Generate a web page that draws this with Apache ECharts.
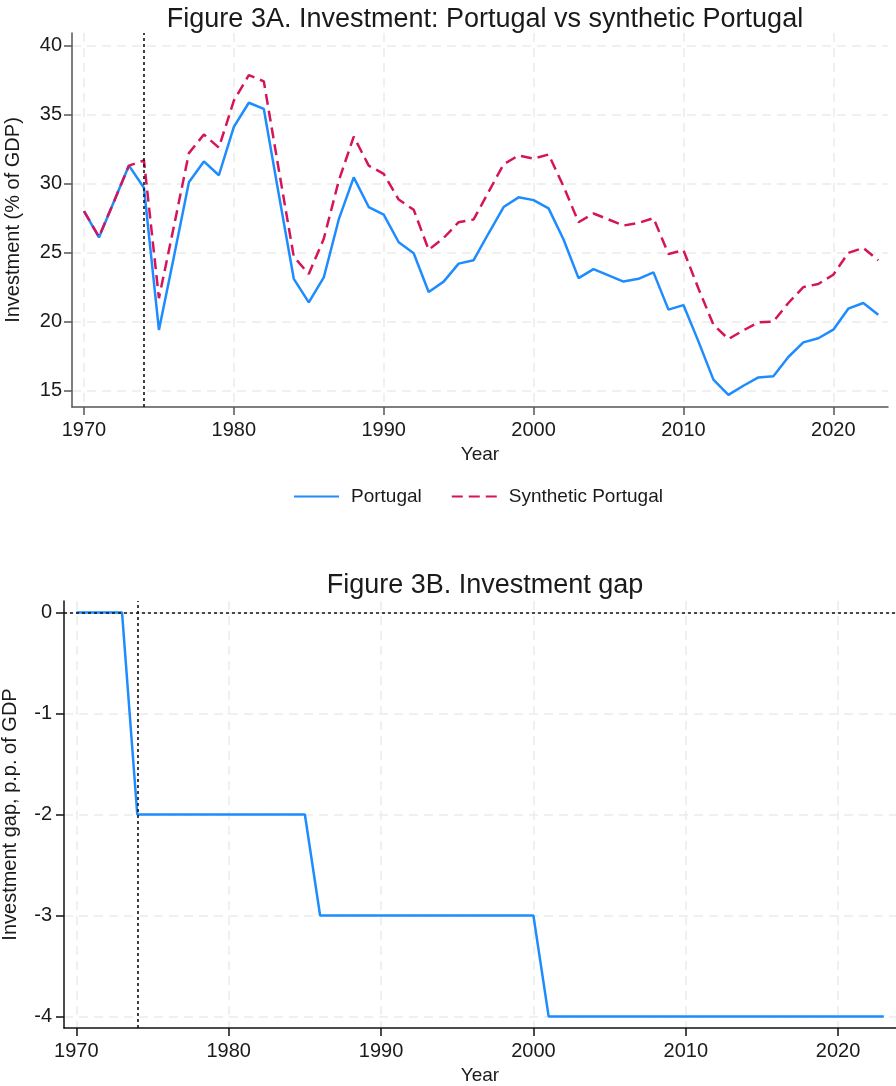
<!DOCTYPE html>
<html>
<head>
<meta charset="utf-8">
<script src="https://cdn.jsdelivr.net/npm/echarts@6/dist/echarts.min.js"></script>
<style>
html,body{margin:0;padding:0;background:#fff;}
#chart{width:896px;height:1086px;}
</style>
</head>
<body>
<div id="chart"></div>
<script>
// ---- Data ----
const years = [1970,1971,1972,1973,1974,1975,1976,1977,1978,1979,
  1980,1981,1982,1983,1984,1985,1986,1987,1988,1989,
  1990,1991,1992,1993,1994,1995,1996,1997,1998,1999,
  2000,2001,2002,2003,2004,2005,2006,2007,2008,2009,
  2010,2011,2012,2013,2014,2015,2016,2017,2018,2019,
  2020,2021,2022,2023];
const portugal = [28.0,26.1,28.7,31.3,29.7,19.4,24.7,30.1,31.6,30.6,
  34.1,35.85,35.4,29.2,23.1,21.4,23.2,27.4,30.45,28.3,
  27.75,25.75,24.95,22.15,22.9,24.2,24.45,26.4,28.3,29.0,
  28.8,28.2,25.95,23.15,23.8,23.35,22.9,23.1,23.57,20.87,
  21.2,18.57,15.8,14.7,15.36,15.96,16.04,17.44,18.5,18.8,
  19.42,20.94,21.35,20.5];
const synthetic = [28.0,26.15,28.7,31.3,31.67,21.7,26.9,32.2,33.55,32.6,
  36.0,37.85,37.4,31.0,24.7,23.45,26.0,30.2,33.4,31.3,
  30.7,28.84,28.1,25.2,26.06,27.2,27.4,29.4,31.4,32.03,
  31.8,32.1,29.8,27.2,27.83,27.4,26.96,27.15,27.5,24.9,
  25.17,22.4,19.78,18.74,19.37,19.95,20.0,21.35,22.5,22.73,
  23.4,24.98,25.34,24.44];
const gap = [0,0,0,0,-2,-2,-2,-2,-2,-2,
  -2,-2,-2,-2,-2,-2,-3,-3,-3,-3,
  -3,-3,-3,-3,-3,-3,-3,-3,-3,-3,
  -3,-4,-4,-4,-4,-4,-4,-4,-4,-4,
  -4,-4,-4,-4,-4,-4,-4,-4,-4,-4,
  -4,-4,-4,-4];
const xTicks = [1970,1980,1990,2000,2010,2020];
const yTicksA = [15,20,25,30,35,40];
const yTicksB = [-4,-3,-2,-1,0];
const treatmentYear = 1974;
const seriesNames = ['Portugal','Synthetic Portugal'];
const titleA = 'Figure 3A. Investment: Portugal vs synthetic Portugal';
const titleB = 'Figure 3B. Investment gap';

// ---- Styles ----
const FONT = '"Liberation Sans", Arial, Helvetica, sans-serif';
const TXT = '#1a1a1a';
const BLUE = '#1E8CFF';
const RED = '#D6145C';
const gridLine = {show:true, lineStyle:{color:'#ebebeb', type:[9,6], width:1.5}};
const fmt = v => String(v);

function xAxisDef(idx, min, max, axisColor){
  return {
    gridIndex: idx, type:'value', min:min, max:max,
    name:'Year', nameLocation:'middle', nameGap:38,
    nameTextStyle:{fontSize:19, color:TXT, fontFamily:FONT},
    axisLine:{show:true, onZero:false, lineStyle:{color:axisColor, width:1.5}},
    axisTick:{show:true, length:8, customValues:xTicks, lineStyle:{color:axisColor, width:1.5}},
    axisLabel:{customValues:xTicks, formatter:fmt, fontSize:20, color:TXT, margin:13, fontFamily:FONT},
    splitLine:gridLine
  };
}
function yAxisDef(idx, min, max, ticks, name, gapN, axisColor, margin){
  return {
    gridIndex: idx, type:'value', min:min, max:max,
    name:name, nameLocation:'middle', nameGap:gapN,
    nameTextStyle:{fontSize:20, color:TXT, fontFamily:FONT},
    axisLine:{show:true, onZero:false, lineStyle:{color:axisColor, width:1.5}},
    axisTick:{show:true, length:8, customValues:ticks, lineStyle:{color:axisColor, width:1.5}},
    axisLabel:{customValues:ticks, formatter:fmt, fontSize:20, color:TXT, margin:margin, fontFamily:FONT},
    splitLine:gridLine
  };
}
const dotted = {type:[3,3], color:'#111', width:1.6};

const option = {
  animation:false,
  backgroundColor:'#fff',
  textStyle:{fontFamily:FONT},
  title:[
    {text:titleA, left:480, top:1, textAlign:'center',
     textStyle:{fontSize:27, fontWeight:'normal', color:TXT, fontFamily:FONT}},
    {text:titleB, left:480, top:567, textAlign:'center',
     textStyle:{fontSize:27, fontWeight:'normal', color:TXT, fontFamily:FONT}}
  ],
  legend:{
    data:seriesNames, left:293, top:487, padding:0, itemWidth:45, itemHeight:18, itemGap:29,
    itemStyle:{opacity:0},
    textStyle:{fontSize:19, color:TXT, fontFamily:FONT, padding:[0,0,0,7]}
  },
  grid:[
    {left:72, right:8, top:33, height:374, outerBoundsMode:'none', containLabel:false},
    {left:64, right:0, top:601, height:427, outerBoundsMode:'none', containLabel:false}
  ],
  xAxis:[
    xAxisDef(0, 1969.2, 2023.65, '#555'),
    xAxisDef(1, 1969.19, 2023.8, '#111')
  ],
  yAxis:[
    yAxisDef(0, 13.82, 40.9, yTicksA, 'Investment (% of GDP)', 49, '#555', 10),
    yAxisDef(1, -4.115, 0.115, yTicksB, 'Investment gap, p.p. of GDP', 44, '#111', 12)
  ],
  series:[
    {name:seriesNames[0], type:'line', xAxisIndex:0, yAxisIndex:0,
     data:years.map((y,i)=>[y,portugal[i]]), showSymbol:false, symbol:'none',
     lineStyle:{color:BLUE, width:2.5}, itemStyle:{color:BLUE}},
    {name:seriesNames[1], type:'line', xAxisIndex:0, yAxisIndex:0,
     data:years.map((y,i)=>[y,synthetic[i]]), showSymbol:false, symbol:'none',
     lineStyle:{color:RED, width:2.5, type:[11,6]}, itemStyle:{color:RED},
     markLine:{silent:true, symbol:['none','none'], label:{show:false}, lineStyle:dotted,
       emphasis:{disabled:true}, data:[{xAxis:treatmentYear}]}},
    {name:'Gap', type:'line', xAxisIndex:1, yAxisIndex:1,
     data:years.map((y,i)=>[y,gap[i]]), showSymbol:false, symbol:'none',
     lineStyle:{color:BLUE, width:2.5}, itemStyle:{color:BLUE},
     markLine:{silent:true, symbol:['none','none'], label:{show:false}, lineStyle:dotted,
       emphasis:{disabled:true}, data:[{xAxis:treatmentYear},{yAxis:0}]}}
  ]
};
const chart = echarts.init(document.getElementById('chart'), null, {renderer:'canvas'});
chart.setOption(option);
</script>
</body>
</html>
